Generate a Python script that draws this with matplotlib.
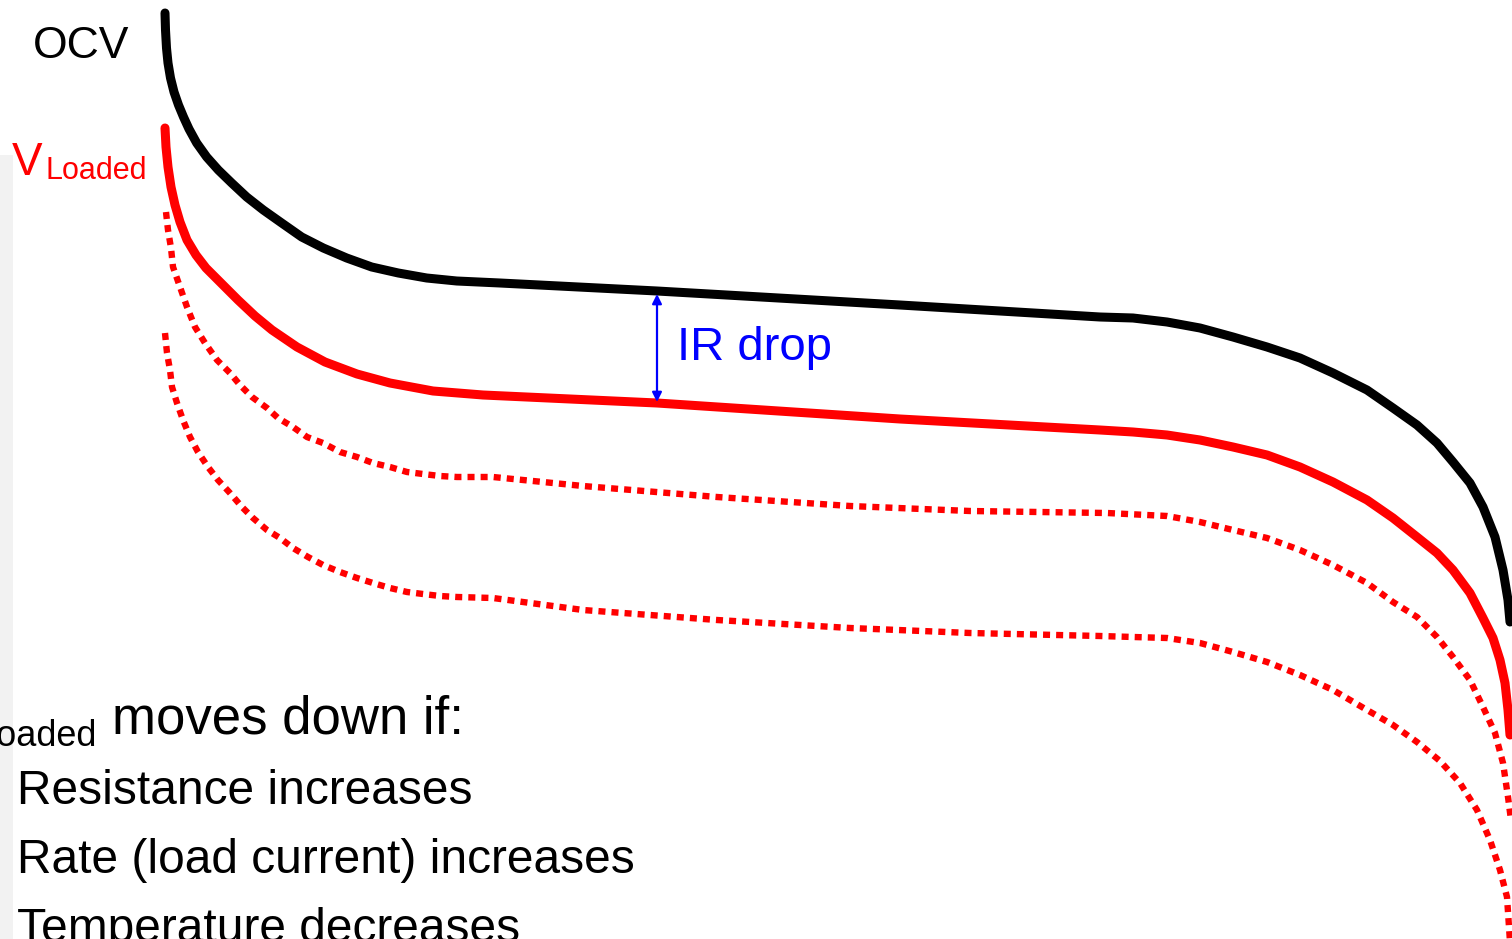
import matplotlib
matplotlib.use("Agg")
import matplotlib.pyplot as plt
from matplotlib.patches import Rectangle

# discharge curves (x = capacity, y = voltage, both in screen pixels, y down)
ocv_x = [165, 165.5, 166.5, 168, 170.5, 174, 178.5, 183.5, 189, 196.7, 206.7, 218.3, 231.7, 246.7, 263.3, 281.7, 301.7, 323.3, 346.7, 371.7, 398.3, 426.7, 456.7, 500,
		 657, 900, 1100, 1133, 1167, 1200, 1233, 1267, 1300, 1333, 1367, 1393, 1417, 1437, 1453, 1470, 1483, 1495, 1503, 1508, 1510]
ocv_y = [13, 30, 48, 63, 78, 92, 105, 117, 129, 143, 157, 170, 183, 197, 210, 223, 237, 248, 258, 267, 273, 278, 281, 283,
		 291, 305, 317, 318, 322, 328, 337, 347, 358, 373, 390, 408, 425, 443, 462, 483, 507, 537, 570, 600, 622]

loaded_x = [165, 166, 168, 171, 175, 180, 187, 196, 206, 218, 238, 255, 272, 297, 325, 357, 390, 433, 483,
			657, 900, 1100, 1133, 1167, 1200, 1233, 1267, 1300, 1333, 1367, 1393, 1417, 1437, 1453, 1470, 1483, 1493, 1500, 1505, 1508, 1510]
loaded_y = [128, 147, 167, 187, 205, 222, 240, 255, 268, 280, 300, 316, 330, 347, 362, 374, 383, 391, 395,
			403, 419, 430, 432, 435, 440, 447, 455, 467, 482, 500, 518, 537, 553, 570, 593, 618, 638, 660, 683, 710, 735]

dot1_x = [166, 168, 171, 173, 180, 187, 195, 205, 217, 230, 240, 252, 267, 278, 293, 307, 323, 340, 357, 373, 390, 407, 423, 440, 457, 493,
		  583, 717, 850, 970, 1107, 1167, 1200, 1233, 1267, 1300, 1333, 1367, 1393, 1417, 1437, 1453, 1470, 1483, 1495, 1503, 1508, 1511]
dot1_y = [212, 230, 248, 267, 287, 307, 327, 343, 360, 373, 385, 397, 408, 418, 427, 437, 443, 452, 457, 463, 467, 472, 474, 476, 477, 477,
		  486, 497, 506, 511, 513, 516, 522, 530, 538, 550, 565, 583, 602, 617, 637, 657, 680, 707, 733, 763, 797, 820]

dot2_x = [165, 167, 170, 172, 177, 183, 190, 198, 208, 218, 230, 242, 253, 267, 280, 293, 308, 323, 340, 357, 373, 390, 407, 423, 440, 457, 493,
		  583, 717, 850, 970, 1100, 1167, 1200, 1233, 1267, 1300, 1333, 1367, 1393, 1417, 1440, 1460, 1477, 1490, 1500, 1507, 1510]
dot2_y = [333, 353, 370, 387, 403, 420, 437, 452, 467, 480, 493, 507, 518, 530, 538, 548, 557, 565, 572, 578, 583, 588, 592, 594, 596, 597, 598,
		  610, 620, 628, 633, 636, 638, 643, 652, 662, 675, 690, 710, 725, 742, 761, 783, 810, 840, 870, 897, 942]

# IR drop marker
ir_x = 657
ir_top = 294
ir_bottom = 402

bullets = ["Resistance increases", "Rate (load current) increases", "Temperature decreases"]

fig = plt.figure(figsize=(15.12, 9.39), dpi=100)
ax = fig.add_axes([0, 0, 1, 1])
ax.set_xlim(0, 1512)
ax.set_ylim(939, 0)
ax.axis("off")

font = "Liberation Sans"

# grey strip on the left edge of the slide
ax.add_patch(Rectangle((0, 155), 13, 800, color="#f2f2f2", lw=0, zorder=0))

ax.plot(ocv_x, ocv_y, color="black", lw=6.5, solid_capstyle="round", solid_joinstyle="round")
ax.plot(loaded_x, loaded_y, color="red", lw=6.5, solid_capstyle="round", solid_joinstyle="round")
for xs, ys in [(dot1_x, dot1_y), (dot2_x, dot2_y)]:
	ax.plot(xs, ys, color="red", lw=4.6, linestyle=(0, (1.1, 0.95)), dash_capstyle="butt", dash_joinstyle="round")

ax.annotate("", xy=(ir_x, ir_bottom), xytext=(ir_x, ir_top),
			arrowprops=dict(arrowstyle="<|-|>", color="blue", lw=1.6, mutation_scale=14, shrinkA=0, shrinkB=0))
ax.text(677, 360, "IR drop", color="blue", fontsize=34, family=font, va="baseline")

ax.text(33, 58, "OCV", color="black", fontsize=32, family=font, va="baseline")
ax.text(12, 175, "V", color="red", fontsize=33, family=font, va="baseline")
ax.text(45, 179, "Loaded", color="red", fontsize=22, family=font, va="baseline")

# bottom text block, cut off at the left like on the slide
ax.text(96, 746, "Loaded", color="black", fontsize=26, family=font, va="baseline", ha="right")
ax.text(112, 733, "moves down if:", color="black", fontsize=38, family=font, va="baseline")
for i, b in enumerate(bullets):
	ax.text(17, 804 + i * 69, b, color="black", fontsize=34.5, family=font, va="baseline")

fig.savefig("out.png", dpi=100)
